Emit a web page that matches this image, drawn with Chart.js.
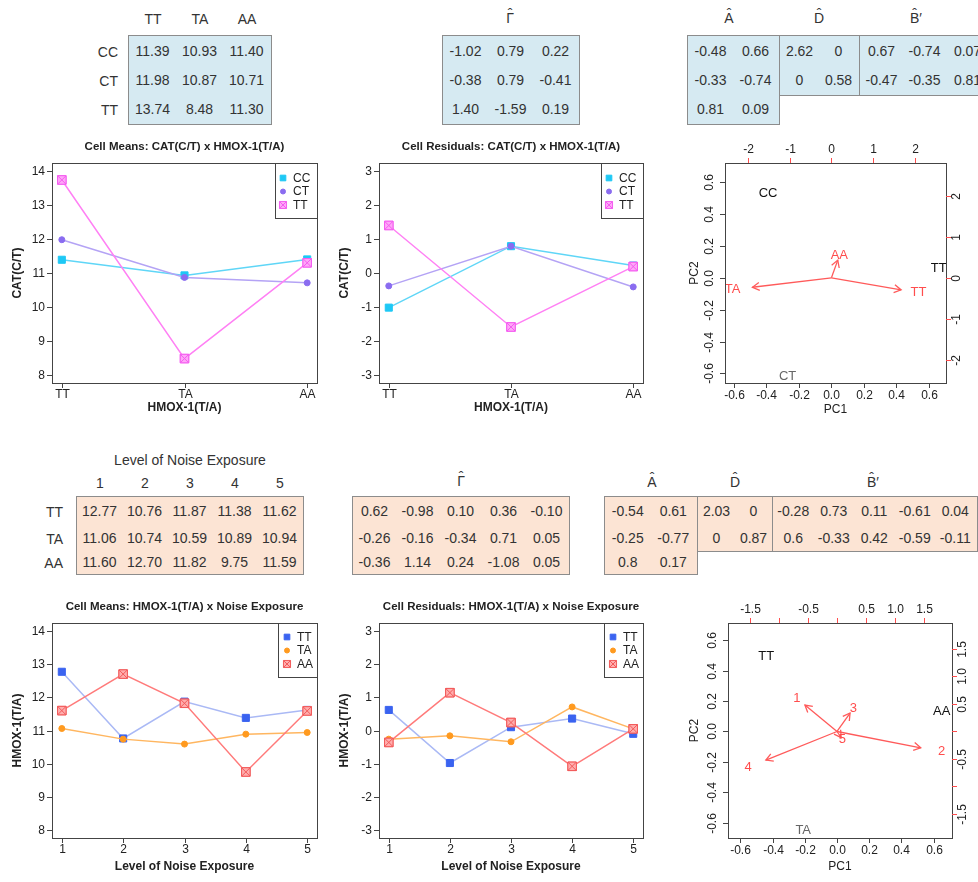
<!DOCTYPE html>
<html>
<head>
<meta charset="utf-8">
<script src="https://cdn.jsdelivr.net/npm/chart.js@4.4.1/dist/chart.umd.min.js"></script>
<style>
html, body { margin: 0; padding: 0; background: #fff; }
#page { position: relative; width: 978px; height: 882px; overflow: hidden; font-family: "Liberation Sans", Arial, sans-serif; color: #333; }
.mat { position: absolute; box-sizing: border-box; border: 1.5px solid #8c8c8c; }
.mat.blue { background: #d6eaf2; }
.mat.peach { background: #fce4d4; }
.mat .row { display: flex; }
.mat .cell { text-align: center; font-size: 14px; white-space: nowrap; flex: none; }
.lbl { position: absolute; font-size: 14px; white-space: nowrap; line-height: 1; transform: translate(-50%, -50%); }
.lbl.right { transform: translate(-100%, -50%); }
.hat { position: relative; display: inline-block; }
.hat i { position: absolute; left: 50%; top: -0.3em; transform: translateX(-50%); font-style: normal; }
canvas { position: absolute; }
</style>
</head>
<body>
<div id="page"></div>
<script>
// genotype / factor levels
const catGenotypes = ['CC', 'CT', 'TT'];
const hmoxGenotypes = ['TT', 'TA', 'AA'];
const noiseLevels = ['1', '2', '3', '4', '5'];

// cell means and residuals, rows = first factor, columns = second factor
const catHmoxMeans = [
    [11.39, 10.93, 11.40],
    [11.98, 10.87, 10.71],
    [13.74, 8.48, 11.30]
];
const catHmoxResid = [
    [-1.02, 0.79, 0.22],
    [-0.38, 0.79, -0.41],
    [1.40, -1.59, 0.19]
];
const hmoxNoiseMeans = [
    [12.77, 10.76, 11.87, 11.38, 11.62],
    [11.06, 10.74, 10.59, 10.89, 10.94],
    [11.60, 12.70, 11.82, 9.75, 11.59]
];
const hmoxNoiseResid = [
    [0.62, -0.98, 0.10, 0.36, -0.10],
    [-0.26, -0.16, -0.34, 0.71, 0.05],
    [-0.36, 1.14, 0.24, -1.08, 0.05]
];

// SVD pieces of the residual matrices, printed as typeset
const catA = [['-0.48', '0.66'], ['-0.33', '-0.74'], ['0.81', '0.09']];
const catD = [['2.62', '0'], ['0', '0.58']];
const catBt = [['0.67', '-0.74', '0.07'], ['-0.47', '-0.35', '0.81']];
const noiseA = [['-0.54', '0.61'], ['-0.25', '-0.77'], ['0.8', '0.17']];
const noiseD = [['2.03', '0'], ['0', '0.87']];
const noiseBt = [['-0.28', '0.73', '0.11', '-0.61', '0.04'], ['0.6', '-0.33', '0.42', '-0.59', '-0.11']];

// biplot coordinates: row scores (PC1, PC2) and column loadings
const catScores = [[-0.39, 0.53], [-0.27, -0.62], [0.66, 0.06]];
const hmoxLoadings = [[2.09, -0.37], [-2.37, -0.29], [0.19, 0.54]];
const hmoxScores = [[-0.44, 0.49], [-0.21, -0.65], [0.65, 0.13]];
const noiseLoadings = [[-0.69, 0.60], [1.80, -0.37], [0.28, 0.42], [-1.53, -0.65], [0.09, -0.14]];

// axis ticks
const meanTicks = [8, 9, 10, 11, 12, 13, 14];
const residTicks = [-3, -2, -1, 0, 1, 2, 3];
const pcTicks = [-0.6, -0.4, -0.2, 0, 0.2, 0.4, 0.6];
const catLoadTicks = [-2, -1, 0, 1, 2];
const noiseLoadTicks = [-1.5, -1, -0.5, 0, 0.5, 1, 1.5];
const noiseLoadLabels = ['-1.5', '', '-0.5', '', '0.5', '1.0', '1.5'];

const FONT = '"Liberation Sans", Arial, sans-serif';
const page = document.getElementById('page');

const catStyles = [
    { line: '#5fd6f7', fill: '#1ec8f5', edge: '#1ec8f5', shape: 'rect', r: 5 },
    { line: '#b4a3f5', fill: '#8a6cf0', edge: '#8a6cf0', shape: 'circle', r: 3 },
    { line: '#ff80f4', fill: '#ffa6f8', edge: '#f45cf0', shape: 'rect', r: 6, cross: true }
];
const noiseStyles = [
    { line: '#aab9f5', fill: '#3a63f0', edge: '#3a63f0', shape: 'rect', r: 5 },
    { line: '#ffb660', fill: '#ff9a1f', edge: '#ff9a1f', shape: 'circle', r: 3 },
    { line: '#ff7a7a', fill: '#ffadad', edge: '#f25a5a', shape: 'rect', r: 6, cross: true }
];

// ---------- tables ----------
function label(text, x, y, right) {
    const el = document.createElement('div');
    el.className = right ? 'lbl right' : 'lbl';
    el.textContent = text;
    el.style.left = x + 'px';
    el.style.top = y + 'px';
    page.appendChild(el);
    return el;
}

// letter with a circumflex set above it
function hatLabel(letter, suffix, x, y) {
    const el = label('', x, y - 1);
    const h = document.createElement('span');
    h.className = 'hat';
    h.textContent = letter;
    const i = document.createElement('i');
    i.textContent = '\u02C6';
    h.appendChild(i);
    el.appendChild(h);
    if (suffix) el.appendChild(document.createTextNode(suffix));
}

function matrixBox(cells, o) {
    const box = document.createElement('div');
    box.className = 'mat ' + o.cls;
    box.style.left = o.left + 'px';
    box.style.top = o.top + 'px';
    box.style.width = (o.colW * cells[0].length + 3) + 'px';
    box.style.paddingTop = (o.padTop || 0) + 'px';
    cells.forEach((row, r) => {
        const rowEl = document.createElement('div');
        rowEl.className = 'row';
        rowEl.style.height = o.rowH[r] + 'px';
        rowEl.style.lineHeight = o.rowH[r] + 'px';
        row.forEach(v => {
            const c = document.createElement('div');
            c.className = 'cell';
            c.style.width = o.colW + 'px';
            c.textContent = v;
            rowEl.appendChild(c);
        });
        box.appendChild(rowEl);
    });
    page.appendChild(box);
}

const fmt = rows => rows.map(r => r.map(v => v.toFixed(2)));
const topRows = [29, 29, 29];
const botRows = [29, 25, 23];

// CAT x HMOX-1 means
hmoxGenotypes.forEach((g, j) => label(g, 128 + 1.5 + 47 * (j + 0.5), 19));
catGenotypes.forEach((g, i) => label(g, 118, 52 + 29 * i, true));
matrixBox(fmt(catHmoxMeans), { cls: 'blue', left: 128, top: 35, colW: 47, rowH: topRows, padTop: 1 });
// residuals
hatLabel('\u0393', '', 510, 19);
matrixBox(fmt(catHmoxResid), { cls: 'blue', left: 442, top: 35, colW: 45, rowH: topRows, padTop: 1 });
// decomposition
hatLabel('A', '', 729, 19);
hatLabel('D', '', 819, 19);
hatLabel('B', '\u2032', 916, 19);
matrixBox(catA, { cls: 'blue', left: 687, top: 35, colW: 45, rowH: topRows, padTop: 1 });
matrixBox(catD, { cls: 'blue', left: 779, top: 35, colW: 39, rowH: topRows, padTop: 1 });
matrixBox(catBt, { cls: 'blue', left: 859, top: 35, colW: 43, rowH: topRows, padTop: 1 });

// HMOX-1 x noise means
label('Level of Noise Exposure', 190, 460);
noiseLevels.forEach((n, j) => label(n, 76 + 1.5 + 45 * (j + 0.5), 483));
hmoxGenotypes.forEach((g, i) => label(g, 63, [512, 539, 563][i], true));
matrixBox(fmt(hmoxNoiseMeans), { cls: 'peach', left: 76, top: 496, colW: 45, rowH: botRows });
hatLabel('\u0393', '', 461, 482);
matrixBox(fmt(hmoxNoiseResid), { cls: 'peach', left: 352, top: 496, colW: 43, rowH: botRows });
hatLabel('A', '', 652, 483);
hatLabel('D', '', 735, 483);
hatLabel('B', '\u2032', 873, 483);
matrixBox(noiseA, { cls: 'peach', left: 604, top: 496, colW: 45.5, rowH: botRows });
matrixBox(noiseD, { cls: 'peach', left: 697, top: 496, colW: 37, rowH: botRows });
matrixBox(noiseBt, { cls: 'peach', left: 772, top: 496, colW: 40.5, rowH: botRows });

// ---------- R-style frame, axes, legend and text ----------
function drawMarker(ctx, shape, r, x, y, fill, edge, cross) {
    ctx.fillStyle = fill;
    ctx.strokeStyle = edge;
    ctx.lineWidth = 1;
    ctx.beginPath();
    if (shape === 'circle') {
        ctx.arc(x, y, r, 0, Math.PI * 2);
    } else {
        const s = r * Math.SQRT1_2;
        ctx.rect(x - s, y - s, 2 * s, 2 * s);
    }
    ctx.fill();
    ctx.stroke();
    if (cross) {
        const s = r * Math.SQRT1_2;
        ctx.beginPath();
        ctx.moveTo(x - s, y - s); ctx.lineTo(x + s, y + s);
        ctx.moveTo(x + s, y - s); ctx.lineTo(x - s, y + s);
        ctx.stroke();
    }
}

function drawAxis(chart, ax) {
    const ctx = chart.ctx, a = chart.chartArea, sc = chart.scales[ax.scale];
    ctx.font = '12px ' + FONT;
    ax.ticks.forEach((v, i) => {
        const p = Math.round(sc.getPixelForValue(v)) + 0.5;
        ctx.strokeStyle = ax.tickColor || '#444';
        ctx.lineWidth = 1;
        ctx.beginPath();
        if (ax.side === 'bottom') { ctx.moveTo(p, a.bottom); ctx.lineTo(p, a.bottom + 5); }
        if (ax.side === 'top') { ctx.moveTo(p, a.top); ctx.lineTo(p, a.top - 5); }
        if (ax.side === 'left') { ctx.moveTo(a.left, p); ctx.lineTo(a.left - 5, p); }
        if (ax.side === 'right') { ctx.moveTo(a.right, p); ctx.lineTo(a.right + 5, p); }
        ctx.stroke();
        const txt = ax.labels[i];
        if (!txt) return;
        ctx.save();
        ctx.fillStyle = '#222';
        ctx.textBaseline = 'middle';
        ctx.textAlign = 'center';
        if (ax.side === 'bottom') ctx.translate(p, a.bottom + ax.gap);
        if (ax.side === 'top') ctx.translate(p, a.top - ax.gap);
        if (ax.side === 'left') {
            if (ax.rotate) {
                ctx.translate(a.left - ax.gap, p);
                ctx.rotate(-Math.PI / 2);
            } else {
                ctx.textAlign = 'right';
                ctx.translate(a.left - ax.gap, p);
            }
        }
        if (ax.side === 'right') {
            ctx.translate(a.right + ax.gap, p);
            ctx.rotate(-Math.PI / 2);
        }
        ctx.fillText(txt, 0, 0);
        ctx.restore();
    });
}

function rFrame(cfg) {
    return {
        id: 'rFrame',
        afterDatasetsDraw(chart) {
            const ctx = chart.ctx, a = chart.chartArea;
            ctx.save();

            // crossed square markers
            chart.data.datasets.forEach((ds, i) => {
                if (!ds.cross) return;
                chart.getDatasetMeta(i).data.forEach(pt => {
                    drawMarker(ctx, 'rect', ds.pointRadius, pt.x, pt.y, ds.pointBackgroundColor, ds.pointBorderColor, true);
                });
            });

            // arrow heads on loading vectors
            chart.data.datasets.forEach((ds, i) => {
                if (!ds.arrow) return;
                const pts = chart.getDatasetMeta(i).data;
                const x0 = pts[0].x, y0 = pts[0].y, x1 = pts[1].x, y1 = pts[1].y;
                const ang = Math.atan2(y1 - y0, x1 - x0), L = 8;
                ctx.strokeStyle = ds.borderColor;
                ctx.lineWidth = ds.borderWidth;
                ctx.beginPath();
                ctx.moveTo(x1 - L * Math.cos(ang - Math.PI / 6), y1 - L * Math.sin(ang - Math.PI / 6));
                ctx.lineTo(x1, y1);
                ctx.lineTo(x1 - L * Math.cos(ang + Math.PI / 6), y1 - L * Math.sin(ang + Math.PI / 6));
                ctx.stroke();
            });

            // text labels placed through the scales
            (cfg.texts || []).forEach(t => {
                const x = chart.scales[t.xScale].getPixelForValue(t.x);
                const y = chart.scales[t.yScale].getPixelForValue(t.y);
                ctx.save();
                ctx.beginPath();
                ctx.rect(a.left, a.top, a.right - a.left, a.bottom - a.top);
                ctx.clip();
                ctx.font = '13px ' + FONT;
                ctx.fillStyle = t.color;
                ctx.textAlign = 'center';
                ctx.textBaseline = 'middle';
                ctx.fillText(t.text, x, y);
                ctx.restore();
            });

            // box
            ctx.strokeStyle = '#444';
            ctx.lineWidth = 1;
            ctx.strokeRect(Math.round(a.left) + 0.5, Math.round(a.top) + 0.5, Math.round(a.right - a.left), Math.round(a.bottom - a.top));

            cfg.axes.forEach(ax => drawAxis(chart, ax));

            ctx.fillStyle = '#222';
            ctx.textAlign = 'center';
            ctx.textBaseline = 'middle';
            if (cfg.title) {
                ctx.font = 'bold 11.5px ' + FONT;
                ctx.fillText(cfg.title, (a.left + a.right) / 2, a.top - 16);
            }
            ctx.font = (cfg.boldTitles ? 'bold ' : '') + '12px ' + FONT;
            ctx.fillText(cfg.xTitle, (a.left + a.right) / 2, a.bottom + cfg.xTitleGap);
            ctx.save();
            ctx.translate(a.left - cfg.yTitleGap, (a.top + a.bottom) / 2);
            ctx.rotate(-Math.PI / 2);
            ctx.fillText(cfg.yTitle, 0, 0);
            ctx.restore();

            // legend in the top right corner of the plot region
            if (cfg.legend) {
                const L = cfg.legend, lx = a.right - L.w, ly = a.top;
                ctx.fillStyle = '#fff';
                ctx.fillRect(lx, ly, L.w, L.h);
                ctx.strokeStyle = '#444';
                ctx.lineWidth = 1;
                ctx.strokeRect(Math.round(lx) + 0.5, Math.round(ly) + 0.5, L.w, L.h);
                ctx.font = '12px ' + FONT;
                chart.data.datasets.forEach((ds, i) => {
                    const y = ly + L.y0 + L.dy * i;
                    const r = ds.pointStyle === 'circle' ? 2.5 : (ds.cross ? 5 : 4);
                    drawMarker(ctx, ds.pointStyle, r, lx + L.mx, y, ds.pointBackgroundColor, ds.pointBorderColor, ds.cross);
                    ctx.fillStyle = '#222';
                    ctx.textAlign = 'left';
                    ctx.fillText(ds.label, lx + L.tx, y + 0.5);
                });
            }
            ctx.restore();
        }
    };
}

function makeCanvas(left, top, w, h) {
    const c = document.createElement('canvas');
    c.width = w;
    c.height = h;
    c.style.left = left + 'px';
    c.style.top = top + 'px';
    page.appendChild(c);
    return c;
}

// ---------- interaction plots ----------
function interactionPlot(canvas, o) {
    const n = o.xLabels.length;
    const xs = o.xLabels.map((_, j) => j + 1);
    const yr = o.ticks[o.ticks.length - 1] - o.ticks[0];
    const datasets = o.groups.map((g, i) => ({
        label: g,
        data: xs.map((x, j) => ({ x: x, y: o.rows[i][j] })),
        borderColor: o.styles[i].line,
        borderWidth: 1.5,
        pointStyle: o.styles[i].shape,
        pointRadius: o.styles[i].r,
        pointBackgroundColor: o.styles[i].fill,
        pointBorderColor: o.styles[i].edge,
        pointBorderWidth: 1,
        cross: o.styles[i].cross,
        order: o.groups.length - i,
        tension: 0
    }));
    new Chart(canvas, {
        type: 'line',
        data: { datasets: datasets },
        options: {
            responsive: false,
            animation: false,
            events: [],
            layout: { padding: o.pad },
            plugins: { legend: { display: false }, tooltip: { enabled: false } },
            scales: {
                x: { type: 'linear', display: false, min: 1 - 0.04 * (n - 1), max: n + 0.04 * (n - 1) },
                y: { type: 'linear', display: false, min: o.ticks[0] - 0.04 * yr, max: o.ticks[o.ticks.length - 1] + 0.04 * yr }
            }
        },
        plugins: [rFrame({
            title: o.title,
            xTitle: o.xTitle, yTitle: o.yTitle, boldTitles: true,
            xTitleGap: o.xTitleGap, yTitleGap: 34,
            axes: [
                { side: 'bottom', scale: 'x', ticks: xs, labels: o.xLabels, gap: 12 },
                { side: 'left', scale: 'y', ticks: o.ticks, labels: o.ticks.map(String), gap: 7 }
            ],
            legend: o.legend
        })]
    });
}

// ---------- biplots ----------
function biplot(canvas, o) {
    const datasets = [{
        label: 'scores',
        data: o.scores.map(p => ({ x: p[0], y: p[1] })),
        pointRadius: 0,
        xAxisID: 'x', yAxisID: 'y'
    }];
    o.loadings.forEach((p, i) => datasets.push({
        label: o.varNames[i],
        data: [{ x: 0, y: 0 }, { x: 0.8 * p[0], y: 0.8 * p[1] }],
        showLine: true,
        borderColor: '#ff5a5a',
        borderWidth: 1.3,
        pointRadius: 0,
        xAxisID: 'x2', yAxisID: 'y2',
        arrow: true
    }));
    const texts = o.scores.map((p, i) => ({ text: o.scoreNames[i], x: p[0], y: p[1], xScale: 'x', yScale: 'y', color: o.scoreColors[i] }))
        .concat(o.loadings.map((p, i) => ({ text: o.varNames[i], x: p[0], y: p[1], xScale: 'x2', yScale: 'y2', color: '#ff4d4d' })));
    new Chart(canvas, {
        type: 'scatter',
        data: { datasets: datasets },
        options: {
            responsive: false,
            animation: false,
            events: [],
            layout: { padding: o.pad },
            plugins: { legend: { display: false }, tooltip: { enabled: false } },
            scales: {
                x: { type: 'linear', display: false, min: o.xlim[0], max: o.xlim[1] },
                y: { type: 'linear', display: false, min: o.ylim[0], max: o.ylim[1] },
                x2: { type: 'linear', axis: 'x', display: false, min: o.xlim[0] * o.ratio, max: o.xlim[1] * o.ratio },
                y2: { type: 'linear', axis: 'y', display: false, min: o.ylim[0] * o.ratio, max: o.ylim[1] * o.ratio }
            }
        },
        plugins: [rFrame({
            xTitle: 'PC1', yTitle: 'PC2',
            xTitleGap: o.xTitleGap, yTitleGap: o.yTitleGap,
            texts: texts,
            axes: [
                { side: 'bottom', scale: 'x', ticks: pcTicks, labels: pcTicks.map(v => v.toFixed(1)), gap: 13 },
                { side: 'left', scale: 'y', ticks: pcTicks, labels: pcTicks.map(v => v.toFixed(1)), gap: 15, rotate: true },
                { side: 'top', scale: 'x2', ticks: o.loadTicks, labels: o.loadLabels, gap: 13, tickColor: '#ff4d4d' },
                { side: 'right', scale: 'y2', ticks: o.loadTicks, labels: o.loadLabels, gap: 11, tickColor: '#ff4d4d' }
            ]
        })]
    });
}

interactionPlot(makeCanvas(0, 135, 330, 290), {
    title: 'Cell Means: CAT(C/T) x HMOX-1(T/A)',
    xTitle: 'HMOX-1(T/A)', yTitle: 'CAT(C/T)', xTitleGap: 25,
    xLabels: hmoxGenotypes, groups: catGenotypes, rows: catHmoxMeans, styles: catStyles,
    ticks: meanTicks,
    pad: { left: 52, right: 13, top: 28, bottom: 42 },
    legend: { w: 42, h: 55, y0: 15, dy: 13.5, mx: 8, tx: 18 }
});
interactionPlot(makeCanvas(330, 135, 330, 290), {
    title: 'Cell Residuals: CAT(C/T) x HMOX-1(T/A)',
    xTitle: 'HMOX-1(T/A)', yTitle: 'CAT(C/T)', xTitleGap: 25,
    xLabels: hmoxGenotypes, groups: catGenotypes, rows: catHmoxResid, styles: catStyles,
    ticks: residTicks,
    pad: { left: 49, right: 17, top: 28, bottom: 42 },
    legend: { w: 42, h: 55, y0: 15, dy: 13.5, mx: 8, tx: 18 }
});
biplot(makeCanvas(660, 135, 318, 290), {
    scores: catScores, scoreNames: catGenotypes, scoreColors: ['#111', '#666', '#111'],
    loadings: hmoxLoadings, varNames: hmoxGenotypes,
    xlim: [-0.655, 0.705], ylim: [-0.66, 0.72], ratio: 3.9,
    loadTicks: catLoadTicks, loadLabels: catLoadTicks.map(String),
    xTitleGap: 27, yTitleGap: 30,
    pad: { left: 65, right: 32, top: 28, bottom: 42 }
});

interactionPlot(makeCanvas(0, 595, 330, 287), {
    title: 'Cell Means: HMOX-1(T/A) x Noise Exposure',
    xTitle: 'Level of Noise Exposure', yTitle: 'HMOX-1(T/A)', xTitleGap: 29,
    xLabels: noiseLevels, groups: hmoxGenotypes, rows: hmoxNoiseMeans, styles: noiseStyles,
    ticks: meanTicks,
    pad: { left: 52, right: 13, top: 28, bottom: 44 },
    legend: { w: 39, h: 54, y0: 14, dy: 13.5, mx: 9, tx: 19 }
});
interactionPlot(makeCanvas(330, 595, 330, 287), {
    title: 'Cell Residuals: HMOX-1(T/A) x Noise Exposure',
    xTitle: 'Level of Noise Exposure', yTitle: 'HMOX-1(T/A)', xTitleGap: 29,
    xLabels: noiseLevels, groups: hmoxGenotypes, rows: hmoxNoiseResid, styles: noiseStyles,
    ticks: residTicks,
    pad: { left: 49, right: 17, top: 28, bottom: 44 },
    legend: { w: 39, h: 54, y0: 14, dy: 13.5, mx: 9, tx: 19 }
});
biplot(makeCanvas(660, 595, 318, 287), {
    scores: hmoxScores, scoreNames: hmoxGenotypes, scoreColors: ['#111', '#666', '#111'],
    loadings: noiseLoadings, varNames: noiseLevels,
    xlim: [-0.677, 0.714], ylim: [-0.699, 0.712], ratio: 2.77,
    loadTicks: noiseLoadTicks, loadLabels: noiseLoadLabels,
    xTitleGap: 29, yTitleGap: 33,
    pad: { left: 68, right: 26, top: 28, bottom: 44 }
});
</script>
</body>
</html>
